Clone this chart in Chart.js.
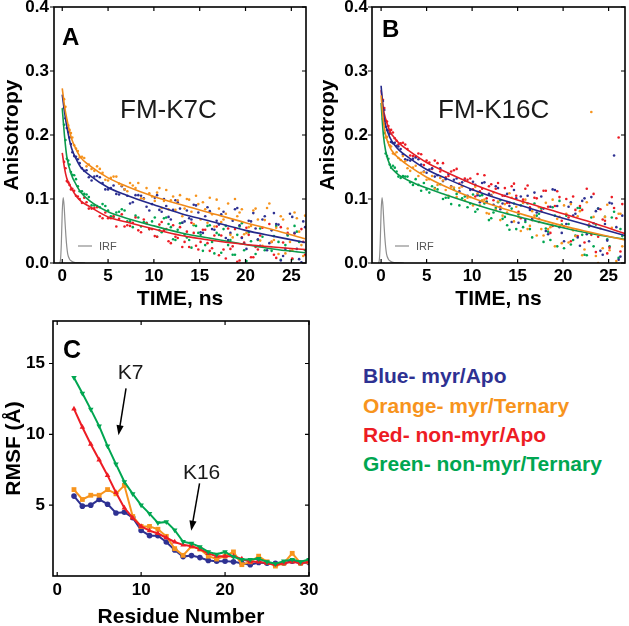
<!DOCTYPE html>
<html lang="en">
<head>
<meta charset="UTF-8">
<title>Anisotropy and RMSF</title>
<style>
  body { margin: 0; background: #fff; overflow: hidden; }
  .wrap { position: relative; width: 629px; height: 626px; overflow: hidden; }
  canvas { position: absolute; }
  .key { position: absolute; left: 363px; font-family: "Liberation Sans", Arial, sans-serif;
         font-size: 21px; line-height: 21px; font-weight: bold; white-space: nowrap; }
</style>
</head>
<body>
<div class="wrap">
  <canvas id="chartA" width="312" height="316" style="left:0;top:0"></canvas>
  <canvas id="chartB" width="315" height="316" style="left:314px;top:0"></canvas>
  <canvas id="chartC" width="330" height="322" style="left:0;top:312px"></canvas>
  <div class="key" style="top:365px;color:#2E3192">Blue- myr/Apo</div>
  <div class="key" style="top:395px;color:#F7941D">Orange- myr/Ternary</div>
  <div class="key" style="top:424px;color:#ED1C24">Red- non-myr/Apo</div>
  <div class="key" style="top:453px;color:#00A651">Green- non-myr/Ternary</div>
</div>

<script src="https://cdn.jsdelivr.net/npm/chart.js"></script>
<script>
// ---- data: anisotropy decays, two interleaved sets of time bins ----
const timeNs = [0.2,0.5,0.8,1.1,1.5,1.9,2.4,2.9,3.5,4.1,4.7,5.3,5.9,6.5,7.1,7.7,8.3,8.9,9.5,
  10.1,10.6,11.1,11.6,12.1,12.6,13.1,13.6,14.1,14.6,15.1,15.6,16.1,16.6,17.1,17.6,18.1,18.6,19.1,
  19.6,20.1,20.6,21.1,21.6,22.1,22.6,23.1,23.6,24.1,24.6,25.1,25.6,26.1,26.5];
const timeNs2 = [0.35,0.65,0.95,1.3,1.7,2.15,2.65,3.2,3.8,4.4,5.0,5.6,6.2,6.8,7.4,8.0,8.6,9.2,9.8,
  10.35,10.85,11.35,11.85,12.35,12.85,13.35,13.85,14.35,14.85,15.35,15.85,16.35,16.85,17.35,17.85,
  18.35,18.85,19.35,19.85,20.35,20.85,21.35,21.85,22.35,22.85,23.35,23.85,24.35,24.85,25.35,25.85,26.3];

// FM-K7C
const k7Blue = [.243,.211,.196,.173,.166,.156,.144,.134,.135,.134,.115,.117,.108,.120,.105,.095,.106,.101,.082,
  .102,.083,.100,.072,.083,.095,.063,.082,.068,.090,.048,.073,.081,.052,.060,.080,.036,.066,.086,.039,.022,
  .065,.054,.027,.073,.031,.078,.060,.011,.045,.072,.022,.001,.056];
const k7Blue2 = [.226,.205,.186,.167,.162,.148,.145,.129,.136,.125,.115,.121,.107,.115,.093,.106,.105,.088,.092,
  .106,.080,.089,.068,.098,.085,.065,.070,.091,.079,.047,.087,.053,.066,.076,.039,.047,.084,.059,.030,.066,
  .078,.037,.068,.020,.051,.061,.004,.022,.077,.047,.006,.065];
const k7Orange = [.256,.222,.208,.196,.179,.165,.164,.154,.144,.147,.130,.133,.135,.121,.112,.121,.125,.100,.109,
  .097,.117,.097,.084,.104,.098,.073,.100,.080,.105,.068,.084,.102,.057,.085,.068,.093,.040,.073,.084,.047,
  .058,.085,.035,.067,.093,.036,.014,.068,.054,.020,.070,.028,.074];
const k7Orange2 = [.244,.215,.203,.184,.175,.166,.151,.147,.151,.141,.129,.135,.124,.115,.125,.117,.101,.117,.104,
  .110,.086,.114,.098,.083,.106,.085,.099,.061,.092,.095,.063,.076,.099,.064,.077,.044,.100,.079,.045,.056,
  .082,.068,.027,.086,.033,.055,.073,.015,.033,.079,.049,.011];
const k7Red = [.158,.128,.122,.116,.105,.100,.102,.085,.086,.073,.079,.070,.057,.076,.059,.063,.051,.068,.053,
  .042,.060,.051,.034,.059,.039,.025,.049,.063,.027,.033,.052,.019,.043,.012,.021,.054,.026,.002,.040,.055,
  .009,.025,.043,-.006,.061,.013,-.004,.032,.047,.007,-.018,.053,.013];
const k7Red2 = [.148,.126,.115,.113,.104,.094,.095,.085,.087,.070,.070,.073,.069,.057,.058,.071,.048,.062,.053,
  .041,.064,.053,.031,.041,.056,.033,.025,.047,.021,.052,.031,.023,.057,.043,.007,.022,.053,.004,.032,.044,
  .009,.021,.055,-.003,.033,.008,.056,-.013,.019,.046,-.011,.033];
const k7Green = [.216,.163,.154,.138,.131,.112,.108,.103,.090,.087,.089,.073,.079,.084,.065,.056,.071,.064,.053,
  .071,.051,.070,.061,.037,.052,.063,.040,.024,.058,.044,.028,.059,.015,.044,.053,.028,.013,.044,.062,.003,
  .034,.014,.054,.020,-.005,.042,.033,-.020,.043,.006,.049,-.008,.020];
const k7Green2 = [.192,.160,.142,.137,.120,.112,.107,.090,.089,.092,.082,.072,.080,.082,.065,.074,.057,.063,.065,
  .041,.048,.071,.056,.036,.062,.044,.036,.059,.047,.019,.058,.033,.047,.016,.058,.036,.013,.057,.020,.048,
  -.004,.036,.041,-.004,.019,.058,.005,.028,-.013,.058,.033,-.008];

// FM-K16C
const k16Blue = [.253,.213,.207,.189,.188,.182,.170,.161,.163,.162,.143,.146,.135,.148,.131,.120,.132,.126,.105,
  .127,.106,.125,.095,.106,.120,.084,.105,.089,.114,.063,.094,.105,.069,.079,.104,.050,.088,.114,.056,.034,
  .088,.074,.040,.097,.045,.103,.081,.019,.061,.094,.168,.005,.074];
const k16Blue2 = [.239,.208,.202,.187,.183,.178,.162,.160,.165,.154,.141,.148,.137,.128,.139,.130,.112,.129,.114,
  .122,.095,.126,.108,.091,.117,.093,.108,.064,.101,.104,.067,.083,.110,.069,.085,.045,.115,.089,.047,.061,
  .095,.077,.027,.101,.034,.062,.085,.013,.035,.093,.056,.010];
const k16Orange = [.239,.196,.189,.182,.170,.164,.167,.148,.149,.136,.142,.131,.116,.133,.114,.119,.103,.120,.102,
  .090,.109,.098,.078,.105,.083,.067,.092,.109,.065,.072,.094,.053,.081,.043,.053,.094,.056,.026,.072,.090,
  .032,.051,.073,.012,.095,.236,.011,.054,.072,.020,-.011,.077,.026];
const k16Orange2 = [.217,.197,.184,.171,.173,.161,.159,.144,.152,.141,.130,.136,.122,.129,.105,.118,.117,.098,.103,
  .119,.090,.099,.077,.110,.096,.074,.079,.102,.088,.050,.099,.058,.074,.087,.043,.053,.099,.069,.031,.077,
  .092,.042,.081,.021,.059,.072,.000,.023,.091,.055,.003,.077];
const k16Red = [.255,.222,.214,.208,.195,.185,.188,.178,.167,.171,.153,.157,.160,.143,.134,.143,.147,.120,.130,
  .115,.139,.116,.101,.123,.116,.088,.117,.094,.124,.080,.099,.121,.067,.101,.081,.113,.047,.089,.103,.057,
  .071,.104,.042,.083,.116,.044,.017,.084,.066,.024,.086,.196,.092];
const k16Red2 = [.242,.221,.204,.204,.191,.187,.185,.168,.166,.170,.160,.147,.156,.156,.136,.145,.124,.132,.132,
  .104,.112,.137,.120,.098,.125,.105,.094,.120,.105,.070,.116,.087,.102,.064,.113,.088,.058,.112,.066,.100,
  .034,.083,.089,.032,.060,.108,.041,.068,.015,.103,.070,.018];
const k16Green = [.225,.171,.163,.149,.149,.135,.136,.135,.122,.122,.125,.110,.117,.123,.102,.092,.108,.101,.087,
  .107,.084,.106,.096,.070,.086,.098,.072,.052,.093,.076,.056,.093,.040,.074,.085,.054,.036,.074,.097,.023,
  .061,.036,.086,.044,.012,.071,.060,-.006,.072,.026,.080,.008,.042];
const k16Green2 = [.203,.167,.154,.152,.143,.133,.135,.126,.131,.113,.115,.120,.115,.100,.102,.115,.090,.104,.093,
  .080,.105,.093,.067,.079,.095,.069,.059,.085,.053,.090,.064,.053,.093,.077,.033,.049,.087,.026,.060,.074,
  .029,.043,.086,.013,.057,.026,.085,-.002,.037,.071,-.001,.053];

// fitted curves
const fitTimeA = [0,0.25,0.5,1,1.5,2,3,5,7,10,13,16,20,23,26.5];
const fitA = {
  blue:   [.263,.236,.213,.180,.163,.150,.137,.118,.106,.091,.077,.066,.051,.042,.032],
  orange: [.273,.245,.225,.195,.178,.165,.152,.133,.120,.104,.091,.079,.063,.052,.038],
  red:    [.172,.148,.132,.117,.105,.097,.088,.072,.064,.053,.043,.036,.029,.025,.021],
  green:  [.242,.198,.166,.138,.123,.111,.097,.080,.070,.058,.047,.039,.029,.022,.016]
};
const fitTimeB = [0,0.25,0.5,1,1.5,2,3,5,7,10,13,16,20,23,26.8];
const fitB = {
  blue:   [.277,.235,.215,.195,.184,.176,.165,.146,.133,.115,.100,.087,.070,.058,.043],
  orange: [.262,.222,.200,.180,.170,.163,.152,.134,.120,.102,.087,.074,.058,.048,.036],
  red:    [.270,.240,.225,.205,.195,.187,.176,.157,.143,.124,.108,.094,.077,.064,.046],
  green:  [.250,.200,.175,.152,.143,.137,.129,.117,.107,.093,.080,.069,.055,.046,.037]
};

// instrument response
const irfTime = [-0.3,-0.2,-0.1,0,0.1,0.2,0.3,0.4,0.5,0.6,0.8,1.0,1.3,1.8,2.5];
const irfVal  = [0,.004,.03,.08,.102,.09,.065,.042,.025,.014,.006,.003,.001,.0005,0];

// ---- data: RMSF per residue ----
const residue = [2,3,4,5,6,7,8,9,10,11,12,13,14,15,16,17,18,19,20,21,22,23,24,25,26,27,28,29,30];
const rmsfBlue   = [5.64,4.93,5.0,5.4,5.07,4.45,4.5,4.12,3.22,2.85,2.85,2.4,1.84,1.37,1.44,1.3,1.1,1.05,1.05,1.0,0.9,0.8,0.95,0.9,0.9,0.9,1.05,0.9,0.95];
const rmsfOrange = [6.1,5.4,5.7,5.7,6.1,5.8,6.4,4.2,3.5,3.5,3.3,2.8,1.93,1.46,2.1,1.9,1.4,1.2,1.4,1.7,0.8,1.0,1.4,1.0,0.7,0.9,1.6,0.9,1.0];
const rmsfRed    = [11.8,10.5,9.3,8.2,7.1,5.9,4.8,4.1,3.5,3.2,3.0,2.7,2.4,2.2,2.1,1.9,1.6,1.4,1.4,1.4,1.2,1.0,1.0,0.9,0.8,0.9,1.0,0.9,1.0];
const rmsfGreen  = [14.0,12.9,11.76,10.58,9.17,7.9,6.65,5.8,5.0,4.4,3.75,3.82,3.24,2.42,2.3,2.06,1.7,1.53,1.7,1.35,1.16,1.16,1.22,1.0,0.86,1.05,1.16,1.0,1.16];

const timeTicks = [0,5,10,15,20,25];
const anisoTicks = [0,0.1,0.2,0.3,0.4];
const residueTicks = [0,10,20,30];
const rmsfTicks = [5,10,15];

const FONT = '"Liberation Sans", Arial, sans-serif';
const COL = { blue: '#2E3192', orange: '#F7941D', red: '#ED1C24', green: '#00A651', irf: '#8e8e8e' };

Chart.defaults.animation = false;
Chart.defaults.font.family = FONT;
Chart.defaults.color = '#000';

const pts = (xs, ys) => xs.map((x, i) => ({ x: x, y: ys[i] }));

// box frame + tick marks (out on the left, in elsewhere)
const frameTicks = {
  id: 'frameTicks',
  afterDatasetsDraw(chart) {
    const { ctx, chartArea: a, scales: { x, y } } = chart;
    ctx.save();
    ctx.strokeStyle = '#000';
    ctx.lineWidth = 1.2;
    ctx.beginPath();
    x.ticks.forEach(t => {
      const px = x.getPixelForValue(t.value);
      ctx.moveTo(px, a.bottom); ctx.lineTo(px, a.bottom - 4);
      ctx.moveTo(px, a.top); ctx.lineTo(px, a.top + 4);
    });
    y.ticks.forEach(t => {
      const py = y.getPixelForValue(t.value);
      ctx.moveTo(a.left, py); ctx.lineTo(a.left - 4, py);
      ctx.moveTo(a.right, py); ctx.lineTo(a.right - 4, py);
    });
    ctx.stroke();
    ctx.lineWidth = 1.6;
    ctx.strokeRect(a.left, a.top, a.right - a.left, a.bottom - a.top);
    ctx.restore();
  }
};

function axes(o) {
  return {
    x: {
      type: 'linear', min: o.xMin, max: o.xMax,
      afterBuildTicks: s => { s.ticks = o.xTicks.map(v => ({ value: v })); },
      afterFit: s => { s.height = o.xH; s.paddingLeft = 0; s.paddingRight = 0; },
      grid: { display: false, drawTicks: false }, border: { display: false },
      ticks: { padding: o.xPad, maxRotation: 0, autoSkip: false, font: { size: 17, weight: 'bold' },
               callback: v => String(v) },
      title: { display: true, text: o.xTitle, font: { size: 21, weight: 'bold' }, padding: { top: 0, bottom: 4 } }
    },
    y: {
      type: 'linear', min: o.yMin, max: o.yMax,
      afterBuildTicks: s => { s.ticks = o.yTicks.map(v => ({ value: v })); },
      afterFit: s => { s.width = o.yW; s.paddingTop = 0; s.paddingBottom = 0; },
      grid: { display: false, drawTicks: false }, border: { display: false },
      ticks: { padding: o.yPad, autoSkip: false, font: { size: 17, weight: 'bold' }, callback: o.yFmt },
      title: { display: true, text: o.yTitle, font: { size: 21, weight: 'bold' }, padding: { top: o.yTitlePad, bottom: 0 } }
    }
  };
}

function decayDatasets(s, fitT, fit) {
  const dots = (d1, d2, c) => ({ data: pts(timeNs, d1).concat(pts(timeNs2, d2)), backgroundColor: c,
                                 borderWidth: 0, pointRadius: 1.3, order: 3 });
  const line = (d, c) => ({ data: pts(fitT, d), borderColor: c, borderWidth: 1.6, pointRadius: 0, showLine: true,
                            cubicInterpolationMode: 'monotone', order: 1 });
  return [
    dots(s.orange, s.orange2, COL.orange), dots(s.blue, s.blue2, COL.blue),
    dots(s.red, s.red2, COL.red), dots(s.green, s.green2, COL.green),
    line(fit.orange, '#F08A1A'), line(fit.blue, '#24288A'), line(fit.red, '#E41E26'), line(fit.green, '#0C9A4C'),
    { data: pts(irfTime, irfVal), borderColor: COL.irf, borderWidth: 1.2, pointRadius: 0, showLine: true,
      cubicInterpolationMode: 'monotone', order: 2 }
  ];
}

function decayExtras(letter, label, lay) {
  return {
    id: 'extras' + letter,
    afterDraw(chart) {
      const { ctx, chartArea: a } = chart;
      ctx.save();
      ctx.fillStyle = '#000';
      ctx.textBaseline = 'alphabetic';
      ctx.font = 'bold 24px ' + FONT;
      ctx.fillText(letter, a.left + lay.lx, a.top + lay.ly);
      ctx.font = '26px ' + FONT;
      ctx.fillStyle = '#1a1a1a';
      ctx.fillText(label, a.left + 66, a.top + 111);
      // IRF key
      ctx.strokeStyle = COL.irf; ctx.lineWidth = 1.2;
      ctx.beginPath();
      ctx.moveTo(a.left + lay.ix, a.bottom - 17); ctx.lineTo(a.left + lay.ix + 14, a.bottom - 17);
      ctx.stroke();
      ctx.fillStyle = '#555';
      ctx.font = '11px ' + FONT;
      ctx.fillText('IRF', a.left + lay.ix + 21, a.bottom - 13);
      ctx.restore();
    }
  };
}

new Chart(document.getElementById('chartA'), {
  type: 'scatter',
  data: { datasets: decayDatasets({ blue: k7Blue, blue2: k7Blue2, orange: k7Orange, orange2: k7Orange2,
                                    red: k7Red, red2: k7Red2, green: k7Green, green2: k7Green2 }, fitTimeA, fitA) },
  options: {
    responsive: false, events: [],
    layout: { padding: { top: 7, right: 6, left: 0, bottom: 0 } },
    plugins: { legend: { display: false }, tooltip: { enabled: false } },
    scales: axes({ xMin: -0.9, xMax: 26.6, xTicks: timeTicks, xH: 53, xPad: 3, xTitle: 'TIME, ns',
                   yMin: 0, yMax: 0.4, yTicks: anisoTicks, yW: 54, yPad: 5, yTitle: 'Anisotropy', yTitlePad: 0,
                   yFmt: v => v.toFixed(1) })
  },
  plugins: [frameTicks, decayExtras('A', 'FM-K7C', { lx: 8, ly: 38, ix: 24 })]
});

new Chart(document.getElementById('chartB'), {
  type: 'scatter',
  data: { datasets: decayDatasets({ blue: k16Blue, blue2: k16Blue2, orange: k16Orange, orange2: k16Orange2,
                                    red: k16Red, red2: k16Red2, green: k16Green, green2: k16Green2 }, fitTimeB, fitB) },
  options: {
    responsive: false, events: [],
    layout: { padding: { top: 7, right: 1, left: 0, bottom: 0 } },
    plugins: { legend: { display: false }, tooltip: { enabled: false } },
    scales: axes({ xMin: -1.0, xMax: 26.8, xTicks: timeTicks, xH: 53, xPad: 3, xTitle: 'TIME, ns',
                   yMin: 0, yMax: 0.4, yTicks: anisoTicks, yW: 58, yPad: 4, yTitle: 'Anisotropy', yTitlePad: 2,
                   yFmt: v => v.toFixed(1) })
  },
  plugins: [frameTicks, decayExtras('B', 'FM-K16C', { lx: 10, ly: 30, ix: 23 })]
});

function arrow(ctx, x1, y1, x2, y2) {
  const ang = Math.atan2(y2 - y1, x2 - x1), L = 10, W = 3.6;
  ctx.beginPath();
  ctx.moveTo(x1, y1);
  ctx.lineTo(x2 - Math.cos(ang) * L * 0.7, y2 - Math.sin(ang) * L * 0.7);
  ctx.stroke();
  ctx.beginPath();
  ctx.moveTo(x2, y2);
  ctx.lineTo(x2 - L * Math.cos(ang) + W * Math.sin(ang), y2 - L * Math.sin(ang) - W * Math.cos(ang));
  ctx.lineTo(x2 - L * Math.cos(ang) - W * Math.sin(ang), y2 - L * Math.sin(ang) + W * Math.cos(ang));
  ctx.closePath();
  ctx.fill();
}

const extrasC = {
  id: 'extrasC',
  afterDraw(chart) {
    const { ctx, chartArea: a, scales: { x, y } } = chart;
    ctx.save();
    ctx.fillStyle = '#000';
    ctx.font = 'bold 25px ' + FONT;
    ctx.fillText('C', a.left + 10, a.top + 37);
    ctx.font = '21px ' + FONT;
    ctx.fillStyle = '#1a1a1a';
    ctx.textAlign = 'center';
    ctx.textBaseline = 'middle';
    ctx.fillText('K7', x.getPixelForValue(8.74), y.getPixelForValue(14.3));
    ctx.fillText('K16', x.getPixelForValue(17.2), y.getPixelForValue(7.26));
    ctx.strokeStyle = '#000'; ctx.fillStyle = '#000'; ctx.lineWidth = 1.5;
    arrow(ctx, x.getPixelForValue(8.2), y.getPixelForValue(13.24), x.getPixelForValue(7.3), y.getPixelForValue(9.94));
    arrow(ctx, x.getPixelForValue(16.96), y.getPixelForValue(6.53), x.getPixelForValue(15.97), y.getPixelForValue(3.2));
    ctx.restore();
  }
};

const rmsfSet = (vals, c, style, r, rot) => ({
  data: pts(residue, vals), showLine: true, borderColor: c, backgroundColor: c, borderWidth: 2,
  pointStyle: style, pointRadius: r, pointRotation: rot || 0, pointBorderWidth: 0, tension: 0
});

new Chart(document.getElementById('chartC'), {
  type: 'scatter',
  data: {
    datasets: [
      rmsfSet(rmsfGreen, COL.green, 'triangle', 3.2, 180),
      rmsfSet(rmsfRed, COL.red, 'triangle', 3.2),
      rmsfSet(rmsfOrange, COL.orange, 'rect', 3.4),
      rmsfSet(rmsfBlue, COL.blue, 'circle', 2.8)
    ]
  },
  options: {
    responsive: false, events: [],
    layout: { padding: { top: 9, right: 21, left: 0, bottom: 0 } },
    plugins: { legend: { display: false }, tooltip: { enabled: false } },
    scales: axes({ xMin: -0.5, xMax: 30, xTicks: residueTicks, xH: 58, xPad: 4, xTitle: 'Residue Number',
                   yMin: 0, yMax: 18, yTicks: rmsfTicks, yW: 53, yPad: 8, yTitle: 'RMSF (Å)', yTitlePad: 2,
                   yFmt: v => String(v) })
  },
  plugins: [frameTicks, extrasC]
});
</script>
</body>
</html>
